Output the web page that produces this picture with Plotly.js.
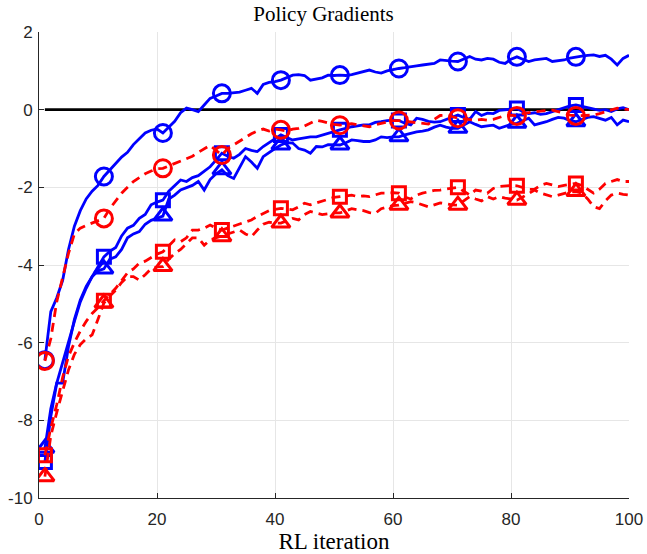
<!DOCTYPE html>
<html>
<head>
<meta charset="utf-8">
<script src="https://cdn.plot.ly/plotly-3.0.1.min.js"></script>
<style>html,body{margin:0;padding:0;background:#fff;}#chart{width:647px;height:554px;}</style>
</head>
<body>
<div id="chart"></div>
<script>
// RL iterations 1..100 (index axis)
const iterations = Array.from({length: 100}, (_, i) => i + 1);
const markerIterations = [1, 11, 21, 31, 41, 51, 61, 71, 81, 91];
const zeroLineX = [1, 100];
const zeroLineY = [0, 0];

const xTickVals = [0, 20, 40, 60, 80, 100];
const xTickText = ["0", "20", "40", "60", "80", "100"];
const yTickVals = [-10, -8, -6, -4, -2, 0, 2];
const yTickText = ["-10", "-8", "-6", "-4", "-2", "0", "2"];

const blueCircle = [-6.45,-5.2,-4.85,-4.4,-3.6,-3.0,-2.6,-2.3,-2.1,-1.95,
-1.72,-1.55,-1.37,-1.22,-1.1,-0.9,-0.75,-0.6,-0.53,-0.5,
-0.6,-0.45,-0.3,-0.08,0.04,0.0,-0.05,0.12,0.29,0.35,
0.42,0.42,0.43,0.45,0.5,0.55,0.42,0.65,0.7,0.72,
0.76,0.82,0.89,0.9,0.88,0.76,0.8,0.82,0.89,0.88,
0.89,0.88,0.9,0.94,0.98,1.02,0.97,0.94,1.0,1.04,
1.06,1.08,1.11,1.13,1.15,1.17,1.19,1.28,1.26,1.25,
1.24,1.3,1.37,1.3,1.28,1.32,1.3,1.22,1.19,1.3,
1.36,1.3,1.24,1.28,1.3,1.32,1.24,1.26,1.28,1.33,
1.36,1.38,1.4,1.41,1.37,1.4,1.3,1.15,1.32,1.4];

const blueSquare = [-9.07,-7.9,-7.05,-6.5,-6.0,-5.45,-4.95,-4.6,-4.3,-4.05,
-3.79,-3.65,-3.55,-3.25,-3.05,-2.98,-2.8,-2.7,-2.45,-2.38,
-2.33,-2.1,-1.95,-1.81,-1.85,-1.75,-1.7,-1.58,-1.47,-1.3,
-1.12,-1.2,-1.25,-1.15,-1.0,-1.05,-1.08,-0.95,-0.85,-0.75,
-0.65,-0.72,-0.78,-0.75,-0.72,-0.7,-0.7,-0.65,-0.6,-0.55,
-0.52,-0.48,-0.44,-0.42,-0.39,-0.39,-0.33,-0.31,-0.28,-0.27,
-0.28,-0.35,-0.39,-0.22,-0.25,-0.3,-0.32,-0.31,-0.25,-0.18,
-0.14,-0.2,-0.25,-0.05,-0.15,-0.09,-0.1,-0.02,0.0,0.02,
0.03,-0.05,-0.1,-0.08,-0.12,-0.1,-0.05,0.0,0.05,0.1,
0.12,0.08,0.04,0.02,-0.02,0.0,-0.05,0.02,0.05,0.0];

const blueTriangle = [-8.72,-7.7,-7.04,-7.04,-6.1,-5.4,-4.9,-4.55,-4.3,-4.15,
-4.1,-3.85,-3.79,-3.6,-3.3,-3.2,-3.14,-2.95,-2.85,-2.8,
-2.74,-2.3,-2.2,-2.07,-2.0,-1.95,-1.85,-2.07,-1.8,-1.65,
-1.55,-1.7,-1.77,-1.5,-1.21,-1.35,-1.51,-1.21,-1.1,-1.0,
-0.91,-0.85,-0.86,-1.0,-1.04,-1.12,-0.95,-0.96,-0.9,-0.9,
-0.91,-0.85,-0.78,-0.8,-0.82,-0.82,-0.78,-0.7,-0.72,-0.7,
-0.7,-0.65,-0.6,-0.57,-0.55,-0.52,-0.45,-0.4,-0.45,-0.48,
-0.48,-0.4,-0.31,-0.38,-0.44,-0.42,-0.4,-0.48,-0.42,-0.38,
-0.35,-0.28,-0.22,-0.39,-0.35,-0.31,-0.25,-0.2,-0.22,-0.28,
-0.31,-0.25,-0.2,-0.18,-0.22,-0.27,-0.2,-0.39,-0.27,-0.31];

const redCircle = [-6.47,-5.9,-4.95,-4.3,-3.7,-3.2,-3.05,-2.98,-2.92,-2.87,
-2.8,-2.55,-2.35,-2.15,-2.0,-1.85,-1.75,-1.65,-1.58,-1.52,
-1.51,-1.45,-1.4,-1.33,-1.28,-1.2,-1.1,-1.0,-0.92,-1.05,
-1.17,-1.0,-0.9,-0.8,-0.7,-0.62,-0.55,-0.5,-0.55,-0.5,
-0.52,-0.55,-0.5,-0.48,-0.42,-0.35,-0.27,-0.3,-0.35,-0.38,
-0.4,-0.38,-0.36,-0.39,-0.42,-0.44,-0.39,-0.35,-0.3,-0.28,
-0.28,-0.3,-0.31,-0.33,-0.35,-0.37,-0.25,-0.15,-0.14,-0.18,
-0.22,-0.24,-0.26,-0.27,-0.25,-0.27,-0.25,-0.2,-0.15,-0.14,
-0.16,-0.1,-0.07,-0.05,-0.04,-0.02,-0.01,-0.05,-0.1,-0.14,
-0.16,-0.15,-0.14,-0.14,-0.1,-0.05,0.0,0.04,0.02,0.0];

const redSquare = [-8.9,-8.2,-7.6,-6.9,-6.35,-6.0,-5.7,-5.45,-5.25,-5.1,
-4.92,-4.75,-4.6,-4.4,-4.2,-4.1,-3.95,-3.9,-3.8,-3.72,
-3.66,-3.5,-3.35,-3.4,-3.3,-3.1,-3.1,-3.05,-2.97,-3.05,
-3.1,-3.05,-3.0,-2.95,-2.88,-2.84,-2.75,-2.67,-2.6,-2.57,
-2.54,-2.56,-2.58,-2.5,-2.41,-2.45,-2.4,-2.35,-2.3,-2.26,
-2.24,-2.22,-2.2,-2.24,-2.22,-2.24,-2.2,-2.15,-2.15,-2.14,
-2.15,-2.25,-2.3,-2.2,-2.15,-2.12,-2.08,-2.07,-2.05,-2.02,
-2.0,-2.1,-2.2,-2.07,-2.1,-2.15,-2.03,-1.98,-1.96,-1.95,
-1.96,-2.0,-2.05,-2.05,-1.95,-1.9,-1.95,-1.98,-1.95,-1.92,
-1.9,-1.95,-2.05,-2.15,-2.05,-1.9,-1.85,-1.8,-1.85,-1.85];

const redTriangle = [-9.45,-8.4,-7.8,-7.25,-6.7,-6.3,-6.05,-5.9,-5.8,-5.4,
-4.98,-4.8,-4.65,-4.45,-4.3,-4.3,-4.39,-4.25,-4.1,-4.05,
-4.04,-3.85,-3.7,-3.6,-3.45,-3.3,-3.3,-3.49,-3.35,-3.3,
-3.27,-3.2,-3.15,-3.1,-3.2,-3.27,-3.1,-2.95,-2.9,-2.92,
-2.92,-2.85,-2.8,-2.84,-2.7,-2.62,-2.67,-2.7,-2.68,-2.66,
-2.66,-2.6,-2.55,-2.58,-2.6,-2.65,-2.67,-2.55,-2.5,-2.47,
-2.46,-2.42,-2.37,-2.4,-2.45,-2.5,-2.45,-2.4,-2.42,-2.45,
-2.46,-2.35,-2.24,-2.3,-2.35,-2.24,-2.3,-2.24,-2.28,-2.3,
-2.33,-2.25,-2.15,-2.07,-2.15,-2.2,-2.24,-2.2,-2.15,-2.12,
-2.11,-2.15,-2.3,-2.5,-2.55,-2.35,-2.2,-2.15,-2.18,-2.2];

const BLUE = "#0000ff";
const RED = "#ff0000";
const DASH = "9px,6px";

function atMarkers(series) {
  return markerIterations.map(it => series[iterations.indexOf(it)]);
}

const seriesDefs = [
  {y: blueCircle, color: BLUE, dash: "solid", symbol: "circle-open", size: 17},
  {y: blueSquare, color: BLUE, dash: "solid", symbol: "square-open", size: 13},
  {y: blueTriangle, color: BLUE, dash: "solid", symbol: "triangle-up-open", size: 16},
  {y: redCircle, color: RED, dash: DASH, symbol: "circle-open", size: 17},
  {y: redSquare, color: RED, dash: DASH, symbol: "square-open", size: 13},
  {y: redTriangle, color: RED, dash: DASH, symbol: "triangle-up-open", size: 16}
];

const traces = [{
  x: zeroLineX, y: zeroLineY, type: "scatter", mode: "lines",
  line: {color: "#000000", width: 2.8}, hoverinfo: "skip", showlegend: false
}];

seriesDefs.forEach(s => {
  traces.push({
    x: iterations, y: s.y, type: "scatter", mode: "lines",
    line: {color: s.color, width: 2.8, dash: s.dash}, showlegend: false
  });
  traces.push({
    x: markerIterations, y: atMarkers(s.y), type: "scatter", mode: "markers",
    marker: {symbol: s.symbol, size: s.size, color: s.color, line: {color: s.color, width: 3}},
    showlegend: false
  });
});

const axisCommon = {
  showgrid: true, gridcolor: "#e6e6e6", gridwidth: 1,
  showline: true, linecolor: "#262626", linewidth: 1, mirror: false,
  ticks: "inside", ticklen: 5, tickcolor: "#262626", tickwidth: 1,
  zeroline: false, tickmode: "array",
  tickfont: {family: "Liberation Sans, Arial, sans-serif", size: 17, color: "#262626"}
};

const layout = {
  width: 647, height: 554,
  margin: {l: 39, r: 18, t: 32, b: 56},
  paper_bgcolor: "#ffffff", plot_bgcolor: "#ffffff",
  title: {
    text: "Policy Gradients",
    font: {family: "Liberation Serif, Times New Roman, serif", size: 21, color: "#000000"},
    x: 0.5, xanchor: "center", y: 1 - 14/554, yref: "container", yanchor: "middle"
  },
  xaxis: Object.assign({}, axisCommon, {
    range: [0, 100], tickvals: xTickVals, ticktext: xTickText,
    ticklabelstandoff: 6,
    title: {text: "RL iteration", standoff: 6,
      font: {family: "Liberation Serif, Times New Roman, serif", size: 23, color: "#000000"}}
  }),
  yaxis: Object.assign({}, axisCommon, {
    range: [-10, 2], tickvals: yTickVals, ticktext: yTickText,
    ticklabelstandoff: 2
  }),
  showlegend: false
};

Plotly.newPlot("chart", traces, layout, {staticPlot: true, displayModeBar: false});
</script>
</body>
</html>
